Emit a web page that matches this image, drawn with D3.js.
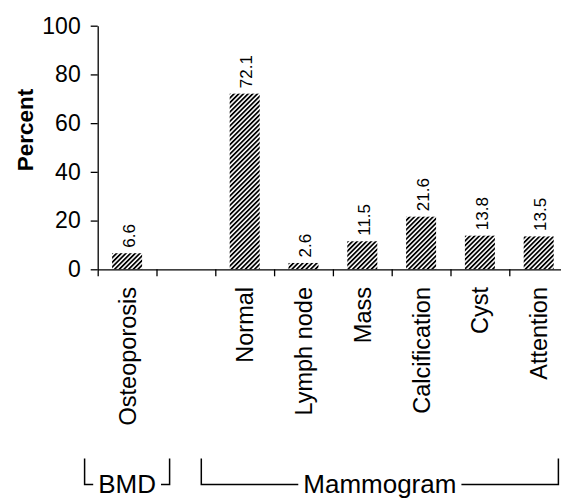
<!DOCTYPE html>
<html>
<head>
<meta charset="utf-8">
<script src="https://cdn.jsdelivr.net/npm/d3@7"></script>
<style>
  html, body { margin: 0; padding: 0; background: #fff; }
  svg { display: block; }
  text { font-family: "Liberation Sans", Arial, sans-serif; fill: #000; }
</style>
</head>
<body>
<svg id="chart" width="561" height="500"></svg>
<script>
// ---- data ----
const categories = ["Osteoporosis", "", "Normal", "Lymph node", "Mass", "Calcification", "Cyst", "Attention"];
const percents   = [6.6, null, 72.1, 2.6, 11.5, 21.6, 13.8, 13.5];
const yTicks     = [0, 20, 40, 60, 80, 100];
const groupLabels = ["BMD", "Mammogram"];
const groupFirst  = ["Osteoporosis", "Normal"];
const groupLast   = ["Osteoporosis", "Attention"];

// ---- layout ----
const svg = d3.select("#chart");
const x0 = 97.7, step = 58.8, y0 = 269.3, yTop = 25.7;

const x = d3.scaleBand().domain(categories).range([x0, x0 + step * categories.length]).padding(0);
const xIdx = d3.scaleLinear().domain([0, categories.length]).range([x0, x0 + step * categories.length]);
const y = d3.scaleLinear().domain([0, 100]).range([y0, yTop]);
const barFrac = 0.51;

// hatch pattern
const defs = svg.append("defs");
defs.append("pattern")
  .attr("id", "hatch")
  .attr("patternUnits", "userSpaceOnUse")
  .attr("width", 3.3).attr("height", 3.3)
  .attr("patternTransform", "rotate(45)")
  .append("rect")
  .attr("x", 0).attr("y", 0).attr("width", 1.75).attr("height", 3.3)
  .attr("fill", "#000");

// bars
const data = categories.map((c, i) => ({ c, v: percents[i] })).filter(d => d.v != null);
svg.append("g").selectAll("rect").data(data).join("rect")
  .attr("x", d => x(d.c) + x.bandwidth() * (1 - barFrac) / 2)
  .attr("width", x.bandwidth() * barFrac)
  .attr("y", d => y(d.v))
  .attr("height", d => y(0) - y(d.v))
  .attr("fill", "url(#hatch)");

// value labels
svg.append("g").selectAll("text").data(data).join("text")
  .attr("transform", d => `translate(${x(d.c) + x.bandwidth() / 2 + 1.5},${y(d.v) - 5.5}) rotate(-90)`)
  .attr("dy", "0.36em")
  .attr("text-anchor", "start")
  .style("font-size", "17px")
  .text(d => d.v.toFixed(1));

// y axis
const yAxis = svg.append("g")
  .attr("transform", `translate(${x0},0)`)
  .call(d3.axisLeft(y).tickValues(yTicks).tickSize(7).tickSizeOuter(0).tickPadding(10));
yAxis.select(".domain").attr("stroke", "#000").attr("stroke-width", 1.3);
yAxis.selectAll(".tick line").attr("stroke", "#000").attr("stroke-width", 1.3);
yAxis.selectAll(".tick text")
  .style("font-family", "'Liberation Sans', Arial, sans-serif")
  .style("font-size", "23px").attr("fill", "#000");

// x axis (slot boundaries)
const xAxis = svg.append("g")
  .attr("transform", `translate(0,${y0})`)
  .call(d3.axisBottom(xIdx).tickValues(d3.range(0, categories.length + 1)).tickFormat("").tickSize(7).tickSizeOuter(0));
xAxis.select(".domain").attr("stroke", "#000").attr("stroke-width", 1.3);
xAxis.selectAll(".tick line").attr("stroke", "#000").attr("stroke-width", 1.3);

// category labels
svg.append("g").selectAll("text").data(categories.filter(c => c !== "")).join("text")
  .attr("transform", c => `translate(${x(c) + x.bandwidth() / 2},287) rotate(-90)`)
  .attr("dy", "0.36em")
  .attr("text-anchor", "end")
  .style("font-size", "23.5px")
  .text(c => c);

// y axis title
svg.append("text")
  .attr("transform", "translate(24.5,130) rotate(-90)")
  .attr("dy", "0.36em")
  .attr("text-anchor", "middle")
  .style("font-size", "22.5px")
  .style("font-weight", "bold")
  .text("Percent");

// group brackets
const bTop = 458.5, bBot = 484.5, textBase = 493;
const gb = svg.append("g").attr("stroke", "#000").attr("stroke-width", 1.5).attr("fill", "none");
const groupText = svg.append("g");
groupLabels.forEach((lab, i) => {
  let left, right;
  if (i === 0) {
    const c = x(groupFirst[i]) + x.bandwidth() / 2;
    left = c - 42.5; right = c + 42.5;
  } else {
    left = x(groupFirst[i]) - 14;
    right = x(groupLast[i]) + x.bandwidth() * 0.835;
  }
  const mid = (left + right) / 2;
  const t = groupText.append("text")
    .attr("x", mid).attr("y", textBase)
    .attr("text-anchor", "middle")
    .style("font-size", "26px")
    .text(lab);
  const w = t.node().getComputedTextLength();
  const gap = 5;
  gb.append("path").attr("d", `M${left},${bTop}V${bBot}H${mid - w / 2 - gap}`);
  gb.append("path").attr("d", `M${right},${bTop}V${bBot}H${mid + w / 2 + gap}`);
});
</script>
</body>
</html>
